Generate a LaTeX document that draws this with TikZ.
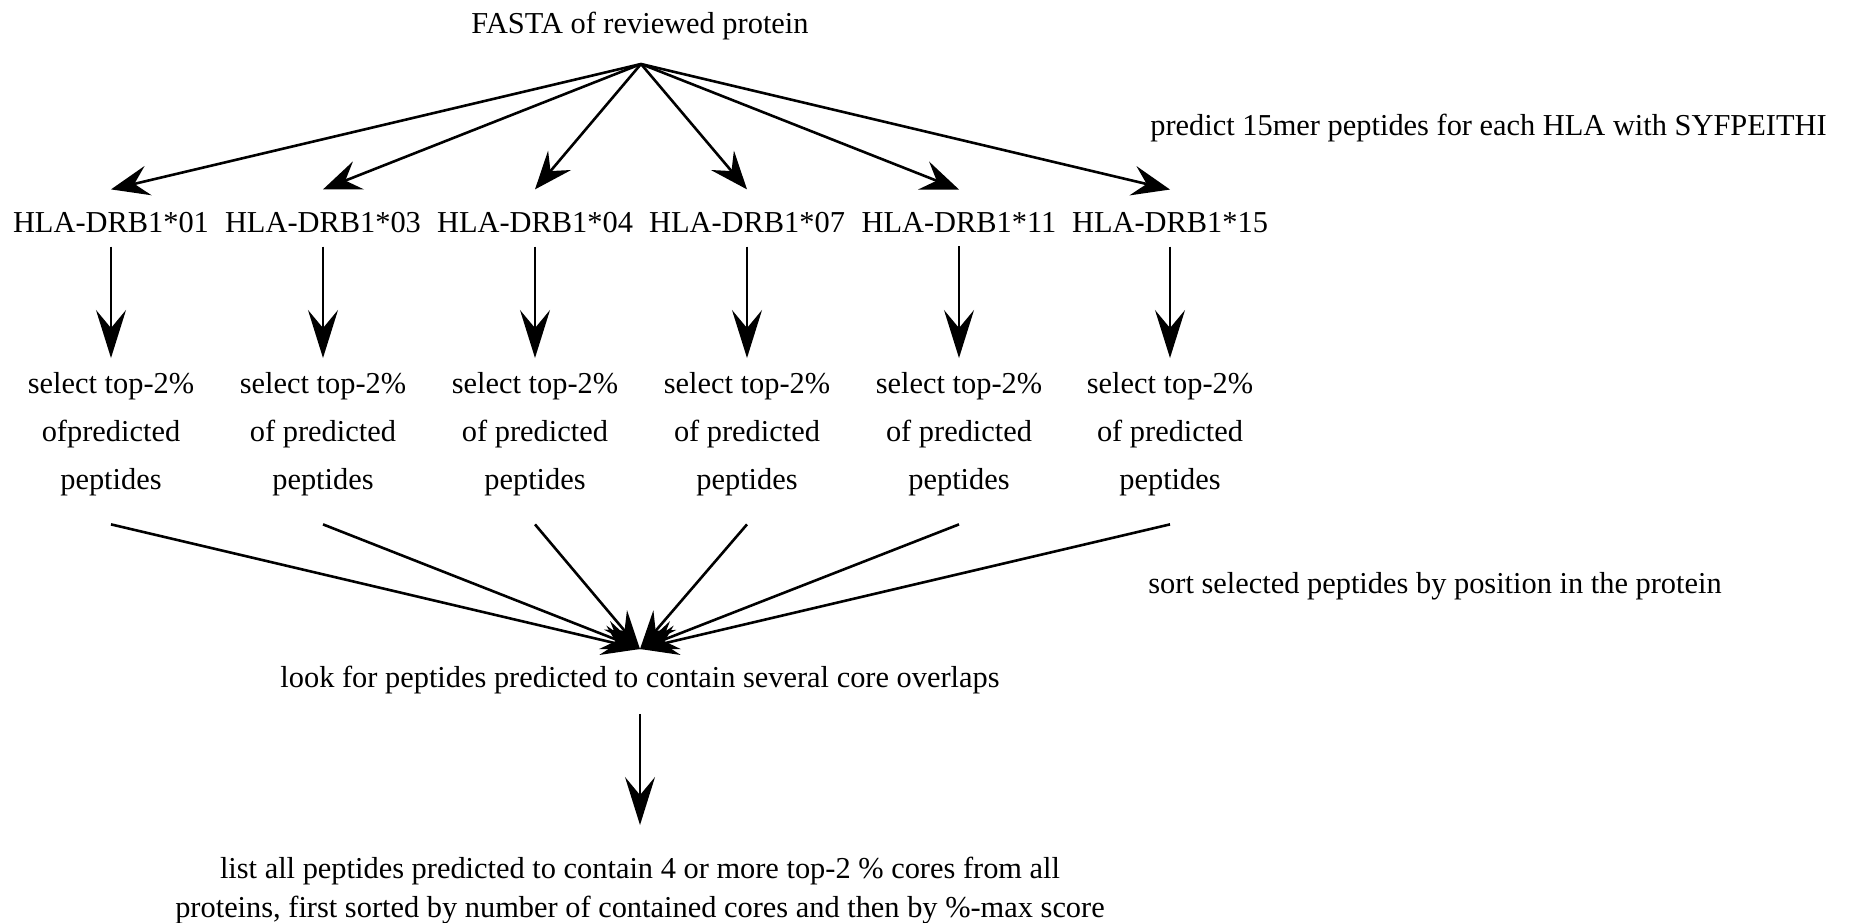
\documentclass[tikz,border=0pt]{standalone}
\usepackage{fontspec}
\setmainfont{Liberation Serif}
\usetikzlibrary{arrows.meta}
\begin{document}
\begin{tikzpicture}[x=0.5pt,y=-0.5pt,
  lbl/.style={inner sep=0pt, font=\fontsize{15.2}{24}\selectfont},
  multi/.style={inner sep=0pt, align=center, font=\fontsize{15.2}{24}\selectfont},
  fanarrow/.style={line width=1.3pt, -{Stealth[length=19pt,width=15pt,inset=7pt]}},
  downarrow/.style={line width=0.9pt, -{Stealth[length=24pt,width=15pt,inset=9pt]}, shorten <=7pt, shorten >=7pt},
  convline/.style={line width=1.3pt, -{Stealth[length=19pt,width=15pt,inset=7pt]}}
]
\useasboundingbox (0,0) rectangle (1850,922);

\node[lbl, anchor=base] (fasta) at (640,33) {FASTA of reviewed protein};
\coordinate (apex) at (641,64);

\node[lbl, anchor=base west] (predict) at (1150,135) {predict 15mer peptides for each HLA with SYFPEITHI};

\foreach \i/\x/\t in {1/111/01, 2/323/03, 3/535/04, 4/747/07, 5/959/11, 6/1170/15}{
  \node[lbl, anchor=base] (h\i) at (\x,232) {HLA-DRB1*\t};
}

\node[multi, anchor=north] (s1) at (111,372) {select top-2\%\\ofpredicted\\peptides};
\foreach \i/\x in {2/323, 3/535, 4/747, 5/959, 6/1170}{
  \node[multi, anchor=north] (s\i) at (\x,372) {select top-2\%\\of predicted\\peptides};
}

\node[lbl, anchor=base west] (sort) at (1148,593) {sort selected peptides by position in the protein};

\coordinate (conv) at (640,649);
\node[lbl, anchor=base] (look) at (640,687) {look for peptides predicted to contain several core overlaps};

\node[multi, anchor=north, font=\fontsize{15.2}{19.5}\selectfont] (list) at (640,857)
  {list all peptides predicted to contain 4 or more top-2 \% cores from all\\
   proteins, first sorted by number of contained cores and then by \%-max score};

\foreach \i in {1,...,6}{
  \draw[fanarrow] (apex) -- ([yshift=11pt]h\i.north);
  \draw[downarrow] (h\i.south) -- (s\i.north);
  \draw[convline] ([yshift=-14pt]s\i.south) -- (conv);
}
\draw[downarrow, shorten <=10pt, shorten >=16pt] (look.south) -- (list.north);
\end{tikzpicture}
\end{document}
